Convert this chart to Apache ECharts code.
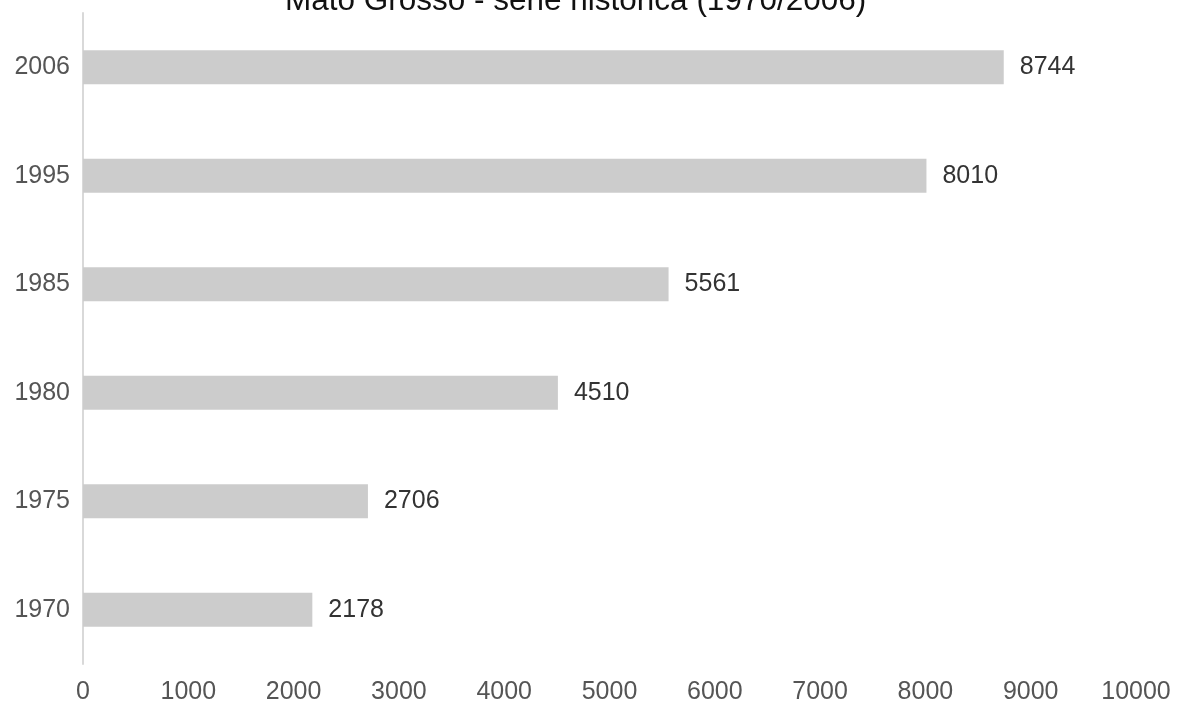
<!DOCTYPE html>
<html>
<head>
<meta charset="utf-8">
<script src="https://cdn.jsdelivr.net/npm/echarts@6/dist/echarts.min.js"></script>
<style>
  html, body { margin: 0; padding: 0; background: #fff; }
  #chart { width: 1179px; height: 706px; }
</style>
</head>
<body>
<div id="chart"></div>
<script>
// Mato Grosso, historical series 1970–2006
const years = ['1970', '1975', '1980', '1985', '1995', '2006'];
const values = [2178, 2706, 4510, 5561, 8010, 8744];
const xTicks = [0, 1000, 2000, 3000, 4000, 5000, 6000, 7000, 8000, 9000, 10000];

const FONT = 'Liberation Sans, Arial, sans-serif';
const chart = echarts.init(document.getElementById('chart'));
chart.setOption({
  animation: false,
  title: {
    text: 'Mato Grosso - série histórica (1970/2006)',
    left: 280,
    top: -20,
    textStyle: { fontFamily: FONT, fontSize: 31.5, fontWeight: 'normal', color: '#111' }
  },
  grid: { left: 83, right: 43, top: 13, bottom: 42 },
  xAxis: {
    type: 'value',
    min: xTicks[0],
    max: xTicks[xTicks.length - 1],
    interval: 1000,
    axisLine: { show: false },
    axisTick: { show: false },
    splitLine: { show: false },
    axisLabel: { fontFamily: FONT, fontSize: 25, color: '#555', margin: 16, formatter: v => String(v) }
  },
  yAxis: {
    type: 'category',
    data: years,
    axisLine: { show: true, lineStyle: { color: '#d9d9d9', width: 2 } },
    axisTick: { show: false },
    axisLabel: { fontFamily: FONT, fontSize: 25, color: '#555', margin: 13 }
  },
  series: [{
    type: 'bar',
    data: values,
    barWidth: 34,
    itemStyle: { color: '#cccccc' },
    label: {
      show: true,
      position: 'right',
      distance: 16,
      fontFamily: FONT,
      fontSize: 25,
      color: '#333'
    }
  }]
});
</script>
</body>
</html>
